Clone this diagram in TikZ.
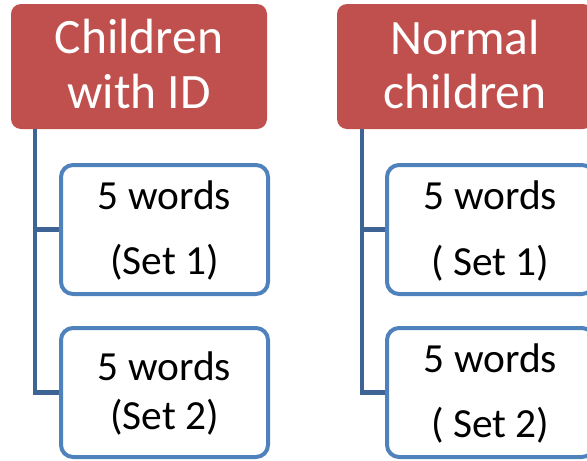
\documentclass[tikz,border=0pt]{standalone}
\usepackage{fontspec}
\setmainfont{Carlito}
\definecolor{hred}{HTML}{C0504D}
\definecolor{bblue}{HTML}{4F81BD}
\definecolor{cblue}{HTML}{3E6496}
\begin{document}
\begin{tikzpicture}[x=1pt,y=-1pt,
  head/.style={fill=hred,draw=none,rounded corners=10pt,minimum width=256pt,minimum height=125pt,inner sep=0pt},
  child/.style={fill=white,draw=bblue,line width=4pt,rounded corners=12pt,minimum width=207pt,minimum height=129pt,inner sep=0pt},
  conn/.style={draw=cblue,line width=4.5pt},
  htxt/.style={anchor=base,text=white,font=\fontsize{49.5}{55}\selectfont,inner sep=0pt},
  ctxt/.style={anchor=base,text=black,font=\fontsize{41.4}{50}\selectfont,inner sep=0pt}]
\useasboundingbox (0,0) rectangle (587,461);
% headers
\node[head] (h1) at (139,66.5) {};
\node[head] (h2) at (465,66.5) {};
\node[htxt] (h1a) at (139,53) {Children};
\node[htxt] (h1b) at (139,108) {with ID};
\node[htxt] (h2a) at (465,54) {Normal};
\node[htxt] (h2b) at (465,108) {children};
% connector roots
\coordinate (v1) at (35,129);
\coordinate (v2) at (362,129);
% child boxes
\node[child] (c1) at (164.5,229.5) {};
\node[child] (c2) at (164.5,392.5) {};
\node[child] (c3) at (490.5,229.5) {};
\node[child] (c4) at (490.5,392.5) {};
% connectors
\draw[conn] (v1) |- (c1.west);
\draw[conn] (v1) |- (c2.west);
\draw[conn] (v2) |- (c3.west);
\draw[conn] (v2) |- (c4.west);
% child texts
\node[ctxt] (t1a) at (164.5,209) {5 words};
\node[ctxt] (t1b) at (164.5,274) {(Set 1)};
\node[ctxt] (t2a) at (164.5,380) {5 words};
\node[ctxt] (t2b) at (164.5,429) {(Set 2)};
\node[ctxt] (t3a) at (490.5,209) {5 words};
\node[ctxt] (t3b) at (490.5,275) {( Set 1)};
\node[ctxt] (t4a) at (490.5,372) {5 words};
\node[ctxt] (t4b) at (490.5,437) {( Set 2)};
\end{tikzpicture}
\end{document}
